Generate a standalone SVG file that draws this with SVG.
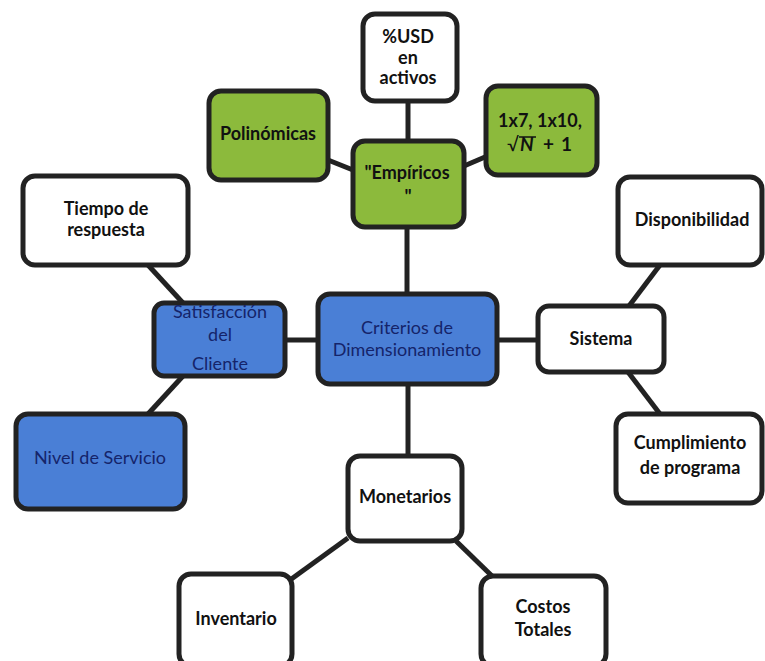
<svg xmlns="http://www.w3.org/2000/svg" width="765" height="661" viewBox="0 0 765 661">
<style>
.n{stroke:#222;stroke-width:5;}
.w{fill:#fff;}
.g{fill:#8cba3c;}
.b{fill:#4a7fd6;}
.t{font-family:Lato,"Open Sans",sans-serif;font-weight:bold;font-size:18px;fill:#111;text-anchor:middle;}
.tb{font-family:Lato,"Open Sans",sans-serif;font-size:18px;fill:#15246a;text-anchor:middle;}
.c{stroke:#222;stroke-width:5;fill:none;}
</style>
<rect width="765" height="661" fill="#fff"/>
<g id="connectors">
<line class="c" x1="408" y1="100" x2="408" y2="141"/>
<line class="c" x1="328" y1="160" x2="353" y2="170"/>
<line class="c" x1="485" y1="157" x2="464" y2="166"/>
<line class="c" x1="407" y1="227" x2="407" y2="295"/>
<line class="c" x1="285" y1="340" x2="318" y2="340"/>
<line class="c" x1="497" y1="340" x2="538" y2="340"/>
<line class="c" x1="408" y1="384" x2="408" y2="456"/>
<line class="c" x1="148" y1="265" x2="183" y2="303"/>
<line class="c" x1="183" y1="376" x2="148" y2="414"/>
<line class="c" x1="660" y1="265" x2="629" y2="306"/>
<line class="c" x1="628" y1="372" x2="660" y2="414"/>
<line class="c" x1="348" y1="538" x2="290" y2="580"/>
<line class="c" x1="456" y1="541" x2="492" y2="576"/>
</g>
<g id="usd"><rect class="n w" x="363" y="14" width="94" height="87" rx="12"/>
<text class="t" x="408" y="43">%USD</text><text class="t" x="408" y="64">en</text><text class="t" x="408" y="84">activos</text></g>
<g id="polinomicas"><rect class="n g" x="209" y="91" width="119" height="89" rx="12"/>
<text class="t" x="268" y="140">Polinómicas</text></g>
<g id="empiricos"><rect class="n g" x="353" y="141" width="111" height="86" rx="12"/>
<text class="t" x="407" y="179">"Empíricos</text><text class="t" x="408" y="203">"</text></g>
<g id="formula"><rect class="n g" x="486" y="86" width="111" height="89" rx="12"/>
<text class="t" x="540" y="127">1x7, 1x10,</text>
<text class="t" y="151" style="font-size:19px;text-anchor:start"><tspan x="507" font-weight="normal">√</tspan><tspan x="520" font-style="italic">N</tspan><tspan x="543">+</tspan><tspan x="561">1</tspan></text>
<line x1="519" y1="137" x2="536" y2="137" stroke="#111" stroke-width="1.5"/></g>
<g id="tiempo"><rect class="n w" x="23" y="176" width="165" height="89" rx="12"/>
<text class="t" x="106" y="215">Tiempo de</text><text class="t" x="106" y="236">respuesta</text></g>
<g id="satisfaccion"><rect class="n b" x="154" y="303" width="131" height="73" rx="10"/>
<text class="tb" x="220" y="318">Satisfacción</text><text class="tb" x="220" y="341">del</text><text class="tb" x="220" y="370">Cliente</text></g>
<g id="nivel"><rect class="n b" x="16" y="414" width="169" height="95" rx="12"/>
<text class="tb" x="100" y="464">Nivel de Servicio</text></g>
<g id="criterios"><rect class="n b" x="318" y="294" width="179" height="90" rx="12"/>
<text class="tb" x="407" y="334">Criterios de</text><text class="tb" x="407" y="356">Dimensionamiento</text></g>
<g id="sistema"><rect class="n w" x="538" y="306" width="126" height="66" rx="11"/>
<text class="t" x="601" y="345">Sistema</text></g>
<g id="disponibilidad"><rect class="n w" x="618" y="177" width="144" height="88" rx="12"/>
<text class="t" x="692" y="226">Disponibilidad</text></g>
<g id="cumplimiento"><rect class="n w" x="616" y="414" width="146" height="89" rx="12"/>
<text class="t" x="690" y="449">Cumplimiento</text><text class="t" x="690" y="474">de programa</text></g>
<g id="monetarios"><rect class="n w" x="348" y="456" width="114" height="85" rx="12"/>
<text class="t" x="405" y="503">Monetarios</text></g>
<g id="inventario"><rect class="n w" x="179" y="574" width="113" height="92" rx="12"/>
<text class="t" x="236" y="625">Inventario</text></g>
<g id="costos"><rect class="n w" x="481" y="576" width="125" height="90" rx="12"/>
<text class="t" x="543" y="613">Costos</text><text class="t" x="543" y="636">Totales</text></g>
</svg>
